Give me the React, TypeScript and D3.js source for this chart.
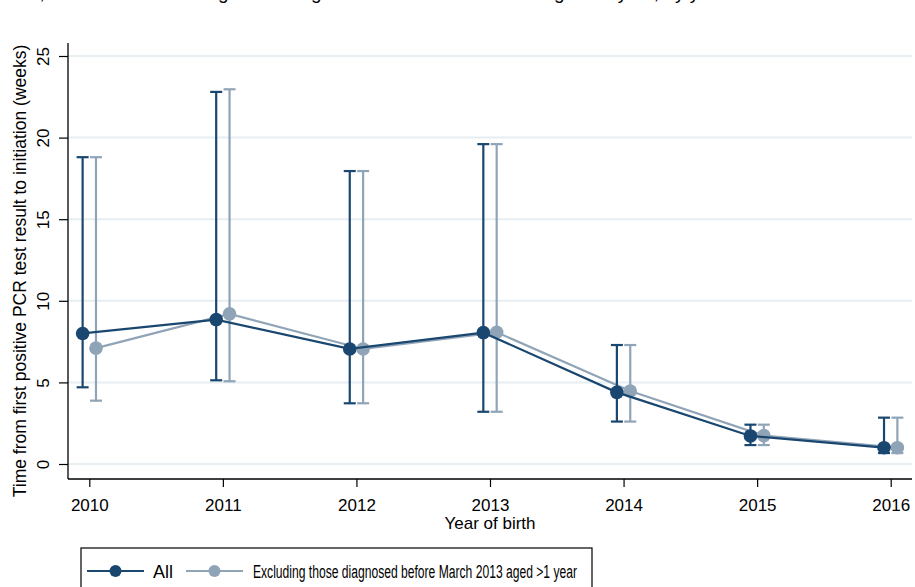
import { useEffect, useRef } from 'react';
import * as d3 from 'd3';

const years = [2010, 2011, 2012, 2013, 2014, 2015, 2016];
const allMedian = [8.0, 8.85, 7.05, 8.05, 4.39, 1.72, 1.0];
const allLower = [4.7, 5.13, 3.72, 3.2, 2.6, 1.16, 0.67];
const allUpper = [18.8, 22.8, 17.95, 19.6, 7.29, 2.41, 2.84];
const exclMedian = [7.1, 9.2, 7.05, 8.07, 4.47, 1.74, 1.0];
const exclLower = [3.88, 5.07, 3.72, 3.2, 2.6, 1.16, 0.67];
const exclUpper = [18.8, 22.96, 17.95, 19.6, 7.29, 2.41, 2.84];
const yTicks = [0, 5, 10, 15, 20, 25];

const DARK = '#1a476f';
const LIGHT = '#90a4b8';
const FONT = '"Liberation Sans", Arial, sans-serif';

export default function App() {
  const svgRef = useRef<SVGSVGElement>(null);

  useEffect(() => {
    if (!svgRef.current) return;
    const svg = d3.select(svgRef.current);
    svg.selectAll('*').remove();

    const x = d3.scaleLinear().domain([2010, 2016]).range([89.3, 890.7]);
    const y = d3.scaleLinear().domain([0, 25]).range([464, 56]);
    const plot = { left: 68, right: 912, top: 43, bottom: 479 };

    // Cut-off title at top
    svg.append('text')
      .attr('x', 790).attr('y', -1.5)
      .attr('text-anchor', 'end')
      .style('font-family', FONT).style('font-size', '19px')
      .text('Figure 2: Time to initiation in infants, overall and excluding those diagnosed before March 2013 aged >1 year, by year of birth');

    // Gridlines
    svg.append('g').selectAll('line').data(yTicks).enter().append('line')
      .attr('x1', plot.left).attr('x2', plot.right)
      .attr('y1', d => y(d)).attr('y2', d => y(d))
      .attr('stroke', '#e6eef1').attr('stroke-width', 2);

    // Y axis
    const yAxis = svg.append('g')
      .attr('transform', `translate(${plot.left},0)`)
      .call(d3.axisLeft(y).tickValues(yTicks).tickSize(9).tickFormat(d => `${d}`));
    yAxis.select('.domain').remove();
    yAxis.selectAll('line').attr('stroke', '#000').attr('stroke-width', 1.2);
    yAxis.selectAll('text')
      .attr('x', 0).attr('y', 0).attr('dy', 0)
      .attr('transform', 'translate(-19,0) rotate(-90)')
      .attr('text-anchor', 'middle')
      .style('font-family', FONT).style('font-size', '17px').attr('fill', '#000');
    svg.append('line')
      .attr('x1', plot.left).attr('x2', plot.left)
      .attr('y1', plot.top).attr('y2', plot.bottom)
      .attr('stroke', '#000').attr('stroke-width', 1.3);

    // X axis
    const xAxis = svg.append('g')
      .attr('transform', `translate(0,${plot.bottom})`)
      .call(d3.axisBottom(x).tickValues(years).tickSize(8).tickFormat(d => `${d}`));
    xAxis.select('.domain').remove();
    xAxis.selectAll('line').attr('stroke', '#000').attr('stroke-width', 1.2);
    xAxis.selectAll('text')
      .attr('y', 32).attr('dy', 0)
      .style('font-family', FONT).style('font-size', '17px').attr('fill', '#000');
    svg.append('line')
      .attr('x1', plot.left).attr('x2', plot.right)
      .attr('y1', plot.bottom).attr('y2', plot.bottom)
      .attr('stroke', '#000').attr('stroke-width', 1.3);

    // Axis titles
    svg.append('text')
      .attr('transform', `translate(26,${(plot.top + plot.bottom) / 2 + 10}) rotate(-90)`)
      .attr('text-anchor', 'middle')
      .style('font-family', FONT).style('font-size', '17.5px')
      .text('Time from first positive PCR test result to initiation (weeks)');
    svg.append('text')
      .attr('x', 490).attr('y', 529)
      .attr('text-anchor', 'middle')
      .style('font-family', FONT).style('font-size', '17px')
      .text('Year of birth');

    const series = [
      { med: allMedian, lo: allLower, hi: allUpper, color: DARK, off: -0.05 },
      { med: exclMedian, lo: exclLower, hi: exclUpper, color: LIGHT, off: 0.05 },
    ];

    // draw light series first, dark on top
    [series[1], series[0]].forEach(s => {
      const pts = years.map((yr, i) => ({ x: yr + s.off, med: s.med[i], lo: s.lo[i], hi: s.hi[i] }));
      const g = svg.append('g');

      // CI bars
      g.selectAll('.ci').data(pts).enter().append('line')
        .attr('x1', d => x(d.x)).attr('x2', d => x(d.x))
        .attr('y1', d => y(d.lo)).attr('y2', d => y(d.hi))
        .attr('stroke', s.color).attr('stroke-width', 2.2);
      ['lo', 'hi'].forEach(k => {
        g.selectAll(`.cap-${k}`).data(pts).enter().append('line')
          .attr('x1', d => x(d.x) - 6).attr('x2', d => x(d.x) + 6)
          .attr('y1', d => y(d[k as 'lo' | 'hi'])).attr('y2', d => y(d[k as 'lo' | 'hi']))
          .attr('stroke', s.color).attr('stroke-width', 2.2);
      });

      // connecting line
      const line = d3.line<{ x: number; med: number }>().x(d => x(d.x)).y(d => y(d.med));
      g.append('path').datum(pts).attr('d', line)
        .attr('fill', 'none').attr('stroke', s.color).attr('stroke-width', 2.2);

      // markers
      g.selectAll('circle').data(pts).enter().append('circle')
        .attr('cx', d => x(d.x)).attr('cy', d => y(d.med)).attr('r', 6.8)
        .attr('fill', s.color);
    });

    // Legend
    const legend = svg.append('g');
    legend.append('rect')
      .attr('x', 81).attr('y', 548).attr('width', 511).attr('height', 60)
      .attr('fill', '#fff').attr('stroke', '#000').attr('stroke-width', 1.2);
    const legendItems = [
      { x1: 87, label: 'All', tx: 153, color: DARK, len: 0 },
      { x1: 186, label: 'Excluding those diagnosed before March 2013 aged >1 year', tx: 253, color: LIGHT, len: 324 },
    ];
    legendItems.forEach(it => {
      legend.append('line')
        .attr('x1', it.x1).attr('x2', it.x1 + 57).attr('y1', 571).attr('y2', 571)
        .attr('stroke', it.color).attr('stroke-width', 2.2);
      legend.append('circle')
        .attr('cx', it.x1 + 28.5).attr('cy', 571).attr('r', 6)
        .attr('fill', it.color);
      const t = legend.append('text')
        .attr('x', it.tx).attr('y', 577.5)
        .style('font-family', FONT).style('font-size', '18px')
        .text(it.label);
      if (it.len) t.attr('textLength', it.len).attr('lengthAdjust', 'spacingAndGlyphs');
    });
  }, []);

  return (
    <div style={{ position: 'fixed', left: 0, top: 0 }}>
      <svg ref={svgRef} width={915} height={587} style={{ display: 'block', background: '#fff' }} />
    </div>
  );
}
